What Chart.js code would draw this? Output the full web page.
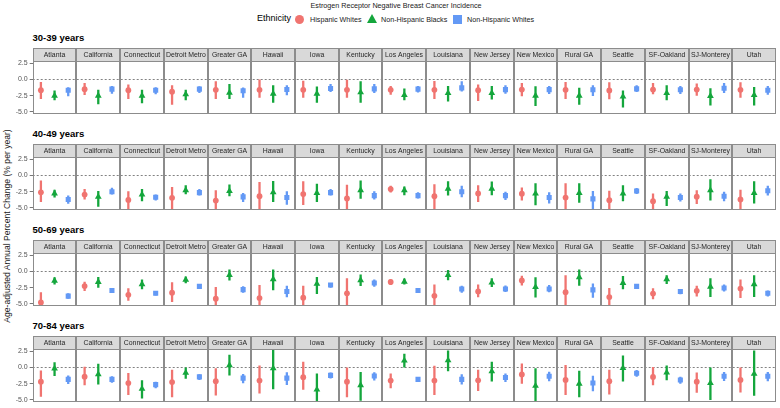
<!DOCTYPE html>
<html>
<head>
<meta charset="utf-8">
<script src="https://cdn.jsdelivr.net/npm/chart.js@4.4.1/dist/chart.umd.min.js"></script>
<style>
  html, body { margin: 0; padding: 0; background: #fff; }
  #wrap { position: relative; width: 780px; height: 408px; overflow: hidden; font-family: "Liberation Sans", Arial, sans-serif; }
  .abs { position: absolute; white-space: nowrap; }
  canvas.row { position: absolute; left: 0; }
</style>
</head>
<body>
<div id="wrap"></div>
<script>
// ---------------- DATA ----------------
const registries = ["Atlanta","California","Connecticut","Detroit Metro","Greater GA","Hawaii","Iowa","Kentucky","Los Angeles","Louisiana","New Jersey","New Mexico","Rural GA","Seattle","SF-Oakland","SJ-Monterey","Utah"];
const ageGroups = ["30-39 years","40-49 years","50-69 years","70-84 years"];
const ethnicities = ["Hispanic Whites","Non-Hispanic Blacks","Non-Hispanic Whites"];
const yTicks = [-5, -2.5, 0, 2.5];

// 30-39 years
const hw3039Est  = [-1.67,-1.5,-1.67,-1.9,-1.6,-1.6,-1.6,-1.6,-1.6,-1.6,-1.67,-1.57,-1.6,-1.7,-1.57,-1.57,-1.6];
const hw3039Lo   = [-3.0,-2.4,-3.0,-3.9,-3.0,-2.8,-2.8,-2.8,-2.35,-3.0,-3.3,-2.6,-3.0,-3.05,-2.3,-2.5,-2.8];
const hw3039Hi   = [-0.4,-0.55,-0.8,-0.9,-0.3,0.0,-0.2,-0.05,-1.0,-0.25,-0.8,-0.55,-0.4,-0.45,-0.55,-0.65,-0.45];
const nhb3039Est = [-2.5,-2.5,-2.5,-2.3,-2.05,-2.2,-2.2,-2.0,-2.4,-2.1,-2.1,-2.5,-2.5,-2.65,-2.1,-2.55,-2.4];
const nhb3039Lo  = [-3.2,-3.8,-3.65,-3.2,-3.0,-3.6,-3.6,-3.6,-3.2,-3.4,-3.1,-4.1,-3.9,-4.3,-3.2,-4.0,-4.0];
const nhb3039Hi  = [-1.7,-1.6,-1.6,-1.6,-0.7,-0.9,-1.1,-0.3,-1.4,-1.0,-1.0,-1.05,-1.3,-1.7,-0.9,-1.35,-1.15];
const nhw3039Est = [-1.67,-1.5,-1.67,-1.5,-1.75,-1.55,-1.4,-1.45,-1.5,-1.3,-1.57,-1.57,-1.6,-1.45,-1.6,-1.35,-1.67];
const nhw3039Lo  = [-2.6,-2.2,-2.3,-2.1,-2.8,-2.45,-1.95,-2.1,-2.0,-1.85,-2.2,-2.25,-2.55,-1.95,-2.25,-2.1,-2.35];
const nhw3039Hi  = [-1.2,-1.0,-1.2,-1.05,-1.25,-0.9,-0.7,-0.7,-1.0,-0.3,-0.9,-1.0,-0.9,-0.9,-1.0,-0.55,-1.0];

// 40-49 years
const hw4049Est  = [-2.6,-2.95,-3.77,-3.45,-3.86,-3.2,-2.86,-3.55,-2.1,-3.2,-2.77,-2.8,-3.4,-3.8,-3.95,-3.27,-3.7];
const hw4049Lo   = [-4.1,-3.7,-5.8,-6.0,-5.9,-6.2,-4.55,-6.0,-2.64,-6.0,-4.1,-3.86,-6.3,-5.8,-5.6,-4.4,-5.8];
const hw4049Hi   = [-0.77,-2.1,-2.45,-1.8,-2.3,-1.0,-0.9,-1.45,-1.6,-1.36,-1.5,-1.86,-1.2,-2.36,-2.77,-2.27,-2.2];
const nhb4049Est = [-2.77,-3.3,-2.95,-2.27,-2.4,-2.6,-2.7,-2.27,-2.27,-2.05,-2.05,-2.8,-2.7,-2.8,-3.27,-2.27,-2.7];
const nhb4049Lo  = [-3.4,-4.8,-3.95,-2.9,-3.2,-4.1,-4.1,-3.6,-3.05,-3.1,-3.05,-4.6,-4.2,-3.95,-4.7,-3.86,-4.3];
const nhb4049Hi  = [-2.2,-2.4,-2.1,-1.5,-1.4,-0.86,-1.3,-0.8,-1.7,-0.9,-0.95,-1.2,-1.2,-1.5,-2.4,-0.6,-0.9];
const nhw4049Est = [-3.7,-2.5,-3.35,-2.64,-3.3,-3.4,-2.64,-3.1,-3.1,-2.5,-3.1,-3.4,-3.6,-2.4,-3.4,-3.2,-2.36];
const nhw4049Lo  = [-4.35,-2.95,-3.85,-3.1,-4.1,-4.5,-3.1,-3.7,-3.55,-3.36,-3.77,-4.3,-5.5,-2.86,-4.0,-3.95,-3.1];
const nhw4049Hi  = [-3.1,-1.9,-2.95,-2.1,-2.7,-2.45,-2.1,-2.45,-2.6,-1.6,-2.5,-2.6,-2.4,-1.95,-2.77,-2.5,-1.6];

// 50-69 years
const hw5069Est  = [-4.76,-2.26,-3.6,-3.27,-4.2,-4.1,-4.04,-3.36,-1.63,-3.75,-3.08,-1.4,-3.2,-3.94,-3.4,-2.98,-2.64];
const hw5069Lo   = [-6.3,-3.0,-4.5,-4.7,-6.0,-6.1,-5.9,-5.7,-2.1,-5.5,-3.95,-2.16,-5.8,-5.4,-4.28,-3.85,-4.1];
const hw5069Hi   = [-3.2,-1.6,-2.6,-1.68,-2.4,-2.1,-2.2,-1.06,-1.25,-2.0,-2.0,-0.67,-0.58,-2.55,-2.6,-2.2,-1.25];
const nhb5069Est = [-1.44,-1.63,-1.97,-1.3,-0.58,-1.2,-1.92,-1.35,-1.59,-0.58,-1.73,-2.4,-0.9,-1.78,-1.2,-2.36,-1.97];
const nhb5069Lo  = [-2.0,-2.5,-2.74,-1.83,-1.4,-2.9,-3.46,-2.26,-2.0,-1.35,-2.4,-4.0,-2.2,-2.74,-1.92,-3.94,-3.94];
const nhb5069Hi  = [-0.9,-0.86,-1.25,-0.77,0.3,0.3,-0.86,-0.48,-1.1,0.2,-1.06,-0.9,0.3,-0.72,-0.58,-1.06,-0.58];
const nhw5069Est = [-3.8,-2.93,-3.36,-2.3,-2.8,-3.08,-2.1,-1.78,-2.93,-2.7,-2.7,-2.7,-2.84,-2.3,-3.08,-2.55,-3.36];
const nhw5069Lo  = [-4.2,-3.27,-3.7,-2.6,-3.27,-3.95,-2.5,-2.36,-3.27,-3.27,-3.17,-3.2,-4.04,-2.64,-3.5,-3.08,-3.85];
const nhw5069Hi  = [-3.36,-2.6,-3.0,-1.97,-2.3,-2.2,-1.78,-1.25,-2.6,-2.2,-2.16,-2.1,-1.87,-1.97,-2.7,-2.0,-2.93];

// 70-84 years
const hw7084Est  = [-2.2,-1.42,-2.4,-2.26,-2.12,-2.03,-1.5,-2.2,-2.03,-2.03,-1.98,-1.08,-1.93,-2.12,-1.46,-2.2,-1.93];
const hw7084Lo   = [-4.5,-2.74,-4.25,-4.58,-4.3,-4.0,-3.44,-4.6,-3.2,-4.25,-3.63,-2.5,-4.25,-4.15,-2.74,-3.9,-3.87];
const hw7084Hi   = [-0.47,0.1,-0.85,-0.38,-0.14,0.28,0.85,0.0,-0.94,0.24,-0.38,0.6,0.38,-0.38,0.05,-0.8,0.0];
const nhb7084Est = [-0.19,-1.08,-3.3,-0.85,0.33,-0.14,-3.4,-2.74,1.04,1.08,-0.6,-2.83,-2.5,-0.1,-0.8,-2.4,-0.99];
const nhb7084Lo  = [-1.32,-2.64,-4.76,-1.75,-1.23,-3.35,-5.8,-5.1,0.0,-0.6,-2.17,-5.6,-4.6,-2.17,-1.98,-5.0,-4.34];
const nhb7084Hi  = [0.8,0.57,-1.98,0.0,1.93,3.2,-0.94,-0.7,2.1,2.6,0.85,-0.14,-0.5,1.84,0.28,0.0,2.6];
const nhw7084Est = [-1.84,-1.84,-2.64,-1.46,-1.65,-1.65,-1.23,-1.32,-1.84,-1.84,-1.56,-1.37,-2.4,-0.9,-1.93,-1.37,-1.37];
const nhw7084Lo  = [-2.55,-2.36,-3.2,-1.93,-2.45,-2.7,-1.7,-2.03,-2.26,-2.64,-2.26,-2.12,-3.68,-1.42,-2.5,-2.07,-2.12];
const nhw7084Hi  = [-1.23,-1.37,-2.2,-1.04,-1.0,-0.75,-0.8,-0.75,-1.46,-1.04,-0.94,-0.66,-1.27,-0.42,-1.42,-0.7,-0.7];

const rowsData = [
  { est: [hw3039Est, nhb3039Est, nhw3039Est], lo: [hw3039Lo, nhb3039Lo, nhw3039Lo], hi: [hw3039Hi, nhb3039Hi, nhw3039Hi] },
  { est: [hw4049Est, nhb4049Est, nhw4049Est], lo: [hw4049Lo, nhb4049Lo, nhw4049Lo], hi: [hw4049Hi, nhb4049Hi, nhw4049Hi] },
  { est: [hw5069Est, nhb5069Est, nhw5069Est], lo: [hw5069Lo, nhb5069Lo, nhw5069Lo], hi: [hw5069Hi, nhb5069Hi, nhw5069Hi] },
  { est: [hw7084Est, nhb7084Est, nhw7084Est], lo: [hw7084Lo, nhb7084Lo, nhw7084Lo], hi: [hw7084Hi, nhb7084Hi, nhw7084Hi] }
];

// ---------------- STYLE / LAYOUT ----------------
const FONT = '"Liberation Sans", Arial, sans-serif';
const colors = ['#F07470', '#14A63C', '#6399F5'];
const pointStyles = ['circle', 'triangle', 'rect'];
const pointRadii = [2.9, 3.9, 3.6];
const PANEL = 3.2;             // width of one facet in x units (discrete 1..3 with 0.6 expansion)
const OFFS = [0.6, 1.6, 2.6];
const YMIN = -5.28, YMAX = 2.82;
const STRIP_H = 13;
const rowCanvasTop = [47.5, 143.5, 239.5, 335.5];
const CANVAS_H = 72;

const wrap = document.getElementById('wrap');
function addText(txt, css) {
  const d = document.createElement('div');
  d.className = 'abs';
  d.textContent = txt;
  Object.assign(d.style, css);
  wrap.appendChild(d);
  return d;
}

// Title
addText('Estrogen Receptor Negative Breast Cancer Incidence', { left: '0px', width: '792px', textAlign: 'center', top: '1px', fontSize: '7.2px', color: '#1a1a1a' });
// Legend
addText('Ethnicity', { left: '257px', top: '13px', fontSize: '9px', color: '#000' });
const legendShapes = document.createElement('div');
legendShapes.innerHTML =
  '<div class="abs" style="left:294.5px;top:14.5px;width:9px;height:9px;border-radius:50%;background:' + colors[0] + '"></div>' +
  '<div class="abs" style="left:366.5px;top:13.5px;width:0;height:0;border-left:5.2px solid transparent;border-right:5.2px solid transparent;border-bottom:9px solid ' + colors[1] + '"></div>' +
  '<div class="abs" style="left:453px;top:14.5px;width:9px;height:9px;background:' + colors[2] + '"></div>';
wrap.appendChild(legendShapes);
addText(ethnicities[0], { left: '310px', top: '15px', fontSize: '7.2px', color: '#1a1a1a' });
addText(ethnicities[1], { left: '381px', top: '15px', fontSize: '7.2px', color: '#1a1a1a' });
addText(ethnicities[2], { left: '467px', top: '15px', fontSize: '7.2px', color: '#1a1a1a' });

// Y axis title
addText('Age-adjusted Annual Percent Change (% per year)', {
  left: '7px', top: '226px', fontSize: '8.6px', color: '#1a1a1a',
  transform: 'translate(-50%, -50%) rotate(-90deg)'
});

// Facet plugin: strips + panel borders
const facetPlugin = {
  id: 'facets',
  afterDatasetsDraw(chart) {
    const { ctx, chartArea } = chart;
    const xs = chart.scales.x;
    ctx.save();
    for (let i = 0; i < registries.length; i++) {
      const x0 = Math.round(xs.getPixelForValue(i * PANEL)) + 0.5;
      const x1 = Math.round(xs.getPixelForValue((i + 1) * PANEL)) - 0.5;
      const top = Math.round(chartArea.top) + 0.5;
      const bot = Math.round(chartArea.bottom) - 0.5;
      // strip
      ctx.fillStyle = '#d9d9d9';
      ctx.fillRect(x0, top - STRIP_H, x1 - x0, STRIP_H);
      ctx.strokeStyle = '#8c8c8c';
      ctx.lineWidth = 1;
      ctx.strokeRect(x0, top - STRIP_H, x1 - x0, STRIP_H);
      // panel border
      ctx.strokeRect(x0, top, x1 - x0, bot - top);
      ctx.fillStyle = '#262626';
      ctx.font = '6.9px ' + FONT;
      ctx.textAlign = 'center';
      ctx.textBaseline = 'middle';
      ctx.fillText(registries[i], (x0 + x1) / 2, top - STRIP_H / 2 + 0.5);
    }
    ctx.restore();
  }
};

function ciData(r, k) {
  const out = [];
  registries.forEach((_, i) => {
    const x = i * PANEL + OFFS[k];
    out.push({ x, y: rowsData[r].lo[k][i] }, { x, y: rowsData[r].hi[k][i] }, { x, y: null });
  });
  return out;
}
function ptData(r, k) {
  return registries.map((_, i) => ({ x: i * PANEL + OFFS[k], y: rowsData[r].est[k][i] }));
}

ageGroups.forEach((label, r) => {
  // row title
  addText(label, { left: '32.5px', top: (rowCanvasTop[r] - 16) + 'px', fontSize: '9.5px', fontWeight: 'bold', color: '#000' });

  const cv = document.createElement('canvas');
  cv.className = 'row';
  cv.width = 780; cv.height = CANVAS_H;
  cv.style.width = '780px'; cv.style.height = CANVAS_H + 'px';
  cv.style.top = rowCanvasTop[r] + 'px';
  wrap.appendChild(cv);

  const datasets = [];
  for (let k = 0; k < 3; k++) {
    datasets.push({
      type: 'scatter', label: ethnicities[k], data: ptData(r, k),
      pointStyle: pointStyles[k], pointRadius: pointRadii[k],
      backgroundColor: colors[k], borderColor: colors[k], borderWidth: 0,
      order: 0, clip: 0
    });
  }
  for (let k = 0; k < 3; k++) {
    datasets.push({
      type: 'line', label: ethnicities[k] + ' CI', data: ciData(r, k),
      borderColor: colors[k], borderWidth: 2.3, pointRadius: 0, spanGaps: false,
      borderCapStyle: 'butt', order: 1, clip: 0
    });
  }
  datasets.push({
    type: 'line', label: 'zero', data: [{ x: 0, y: 0 }, { x: registries.length * PANEL, y: 0 }],
    borderColor: '#4d4d4d', borderWidth: 0.7, borderDash: [2, 2], pointRadius: 0, order: 2, clip: 0
  });

  new Chart(cv, {
    type: 'line',
    data: { datasets },
    options: {
      responsive: false, animation: false, devicePixelRatio: 1,
      layout: { padding: { top: STRIP_H, bottom: 1.5, left: 0, right: 1.7 } },
      plugins: { legend: { display: false }, tooltip: { enabled: false }, title: { display: false } },
      scales: {
        x: { type: 'linear', min: 0, max: registries.length * PANEL, display: false },
        y: {
          type: 'linear', min: YMIN, max: YMAX,
          afterBuildTicks: s => { s.ticks = yTicks.map(v => ({ value: v })); },
          afterFit: s => { s.width = 32.7; },
          ticks: { callback: v => Number(v).toFixed(1), font: { size: 7, family: FONT }, color: '#555555', padding: 2 },
          grid: { drawOnChartArea: false, tickLength: 3, color: '#555555', lineWidth: 0.8 },
          border: { display: false }
        }
      }
    },
    plugins: [facetPlugin]
  });
});
</script>
</body>
</html>
